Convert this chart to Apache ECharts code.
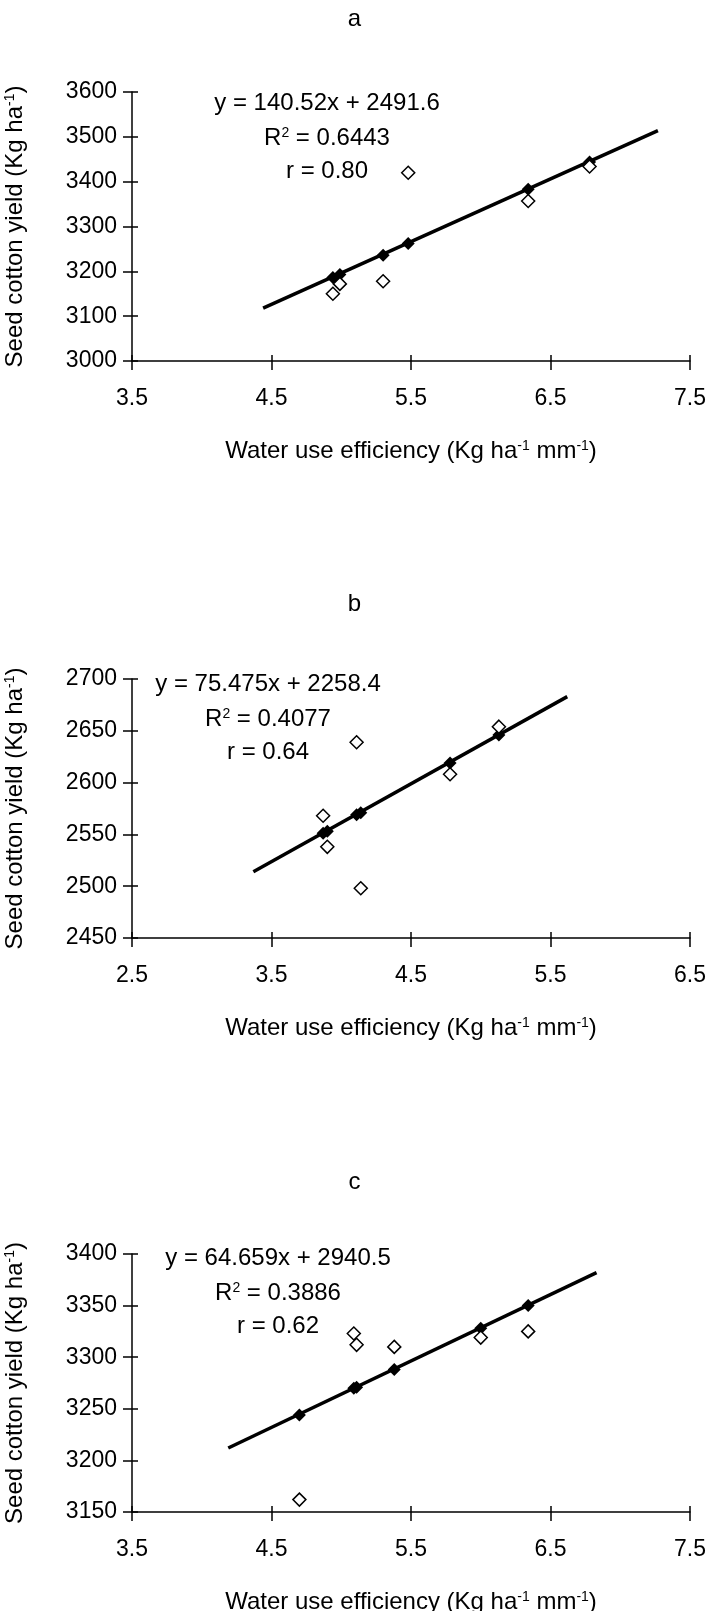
<!DOCTYPE html>
<html>
<head>
<meta charset="utf-8">
<script src="https://cdn.jsdelivr.net/npm/echarts@6/dist/echarts.min.js"></script>
<style>
  body { margin: 0; background: #fff; }
  #chart { width: 709px; height: 1611px; }
</style>
</head>
<body>
<div id="chart"></div>
<script>
// panel a
const wueA = [4.94, 4.99, 5.30, 5.48, 6.34, 6.78];
const yieldA = [3150, 3172, 3178, 3420, 3357, 3434];
const predA = [3186, 3193, 3236, 3262, 3383, 3444];
const trendXA = [4.44, 7.27];
const trendYA = [3118, 3514];

// panel b
const wueB = [3.87, 3.90, 4.11, 4.14, 4.78, 5.13];
const yieldB = [2568, 2538, 2639, 2498, 2608, 2654];
const predB = [2551, 2553, 2569, 2571, 2619, 2646];
const trendXB = [3.37, 5.62];
const trendYB = [2514, 2683];

// panel c
const wueC = [4.70, 5.09, 5.11, 5.38, 6.00, 6.34];
const yieldC = [3162, 3323, 3312, 3310, 3319, 3325];
const predC = [3244, 3270, 3271, 3288, 3328, 3350];
const trendXC = [4.19, 6.83];
const trendYC = [3212, 3382];

const equations = [
  ['y = 140.52x + 2491.6', '0.6443', 'r = 0.80'],
  ['y = 75.475x + 2258.4', '0.4077', 'r = 0.64'],
  ['y = 64.659x + 2940.5', '0.3886', 'r = 0.62']
];
const panelLabels = ['a', 'b', 'c'];

const FONT = '"Liberation Sans", Arial, sans-serif';
const FS = 24;     // names, equations
const TFS = 23;    // tick labels

const chart = echarts.init(document.getElementById('chart'));

const panels = [
  { top: 92, height: 269, xMin: 3.5, xMax: 7.5, yMin: 3000, yMax: 3600, yStep: 100,
    x: wueA, y: yieldA, p: predA, tx: trendXA, ty: trendYA },
  { top: 679, height: 259, xMin: 2.5, xMax: 6.5, yMin: 2450, yMax: 2700, yStep: 50,
    x: wueB, y: yieldB, p: predB, tx: trendXB, ty: trendYB },
  { top: 1254, height: 258, xMin: 3.5, xMax: 7.5, yMin: 3150, yMax: 3400, yStep: 50,
    x: wueC, y: yieldC, p: predC, tx: trendXC, ty: trendYC }
];

// positions of the text blocks (pixels)
const eqPos = [[327, 103], [268, 684], [278, 1258]];
const titleY = [19, 604, 1182];

const grid = [], xAxis = [], yAxis = [], series = [], graphic = [];

const richText = {
  n: { fontSize: FS, fontFamily: FONT, color: '#000', verticalAlign: 'bottom' },
  s: { fontSize: 14, fontFamily: FONT, color: '#000', verticalAlign: 'top' }
};
const tickStyle = { color: '#000', width: 1.5 };

panels.forEach((pn, i) => {
  grid.push({ left: 132, top: pn.top, width: 558, height: pn.height,
              containLabel: false, outerBoundsMode: 'none' });
  // main x axis
  xAxis.push({
    type: 'value', gridIndex: i, position: 'bottom', min: pn.xMin, max: pn.xMax, interval: 1,
    axisLine: { lineStyle: { color: '#000', width: 1.5 } },
    axisTick: { length: 9, lineStyle: tickStyle },
    axisLabel: { color: '#000', fontSize: TFS, fontFamily: FONT, margin: 26 },
    splitLine: { show: false },
    name: '{n|Water use efficiency (Kg ha}{s|-1}{n| mm}{s|-1}{n|)}',
    nameLocation: 'middle', nameGap: 78,
    nameTextStyle: { rich: richText }
  });
  // inner half of the crossing ticks
  xAxis.push({
    type: 'value', gridIndex: i, position: 'bottom', min: pn.xMin, max: pn.xMax, interval: 1,
    axisLine: { show: false },
    axisTick: { inside: true, length: 6, lineStyle: tickStyle },
    axisLabel: { show: false }, splitLine: { show: false }
  });
  yAxis.push({
    type: 'value', gridIndex: i, position: 'left', min: pn.yMin, max: pn.yMax, interval: pn.yStep,
    axisLine: { lineStyle: { color: '#000', width: 1.5 } },
    axisTick: { length: 9, lineStyle: tickStyle },
    axisLabel: { color: '#000', fontSize: TFS, fontFamily: FONT, margin: 15,
                 formatter: v => String(v) },
    splitLine: { show: false },
    name: '{n|Seed cotton yield (Kg ha}{s|-1}{n|)}',
    nameLocation: 'middle', nameRotate: 90, nameGap: 105,
    nameTextStyle: { rich: richText }
  });
  yAxis.push({
    type: 'value', gridIndex: i, position: 'left', min: pn.yMin, max: pn.yMax, interval: pn.yStep,
    axisLine: { show: false },
    axisTick: { inside: true, length: 6, lineStyle: tickStyle },
    axisLabel: { show: false }, splitLine: { show: false }
  });

  const xi = i * 2, yi = i * 2;
  series.push({
    type: 'line', xAxisIndex: xi, yAxisIndex: yi,
    data: pn.tx.map((v, k) => [v, pn.ty[k]]),
    symbol: 'none', lineStyle: { color: '#000', width: 3.5 }, silent: true, z: 2
  });
  series.push({
    type: 'scatter', xAxisIndex: xi, yAxisIndex: yi,
    data: pn.x.map((v, k) => [v, pn.p[k]]),
    symbol: 'diamond', symbolSize: 13,
    itemStyle: { color: '#000', opacity: 1 }, z: 3
  });
  series.push({
    type: 'scatter', xAxisIndex: xi, yAxisIndex: yi,
    data: pn.x.map((v, k) => [v, pn.y[k]]),
    symbol: 'diamond', symbolSize: 13,
    itemStyle: { color: '#fff', borderColor: '#000', borderWidth: 1.5, opacity: 1 }, z: 4
  });

  const [ex, ey] = eqPos[i];
  const eq = equations[i];
  const textBase = { fill: '#000', fontSize: FS, fontFamily: FONT,
                     align: 'center', verticalAlign: 'middle', textAlign: 'center', textVerticalAlign: 'middle' };
  graphic.push({ type: 'text', x: ex, y: ey, style: Object.assign({ text: eq[0] }, textBase) });
  graphic.push({
    type: 'text', x: ex, y: ey + 35,
    style: Object.assign({ text: '{n|R}{s|2}{n| = ' + eq[1] + '}', rich: richText }, textBase)
  });
  graphic.push({ type: 'text', x: ex, y: ey + 68, style: Object.assign({ text: eq[2] }, textBase) });
  graphic.push({ type: 'text', x: 354.5, y: titleY[i], style: Object.assign({ text: panelLabels[i] }, textBase) });
});

chart.setOption({
  backgroundColor: '#fff',
  animation: false,
  grid: grid,
  xAxis: xAxis,
  yAxis: yAxis,
  series: series,
  graphic: graphic
});
</script>
</body>
</html>
